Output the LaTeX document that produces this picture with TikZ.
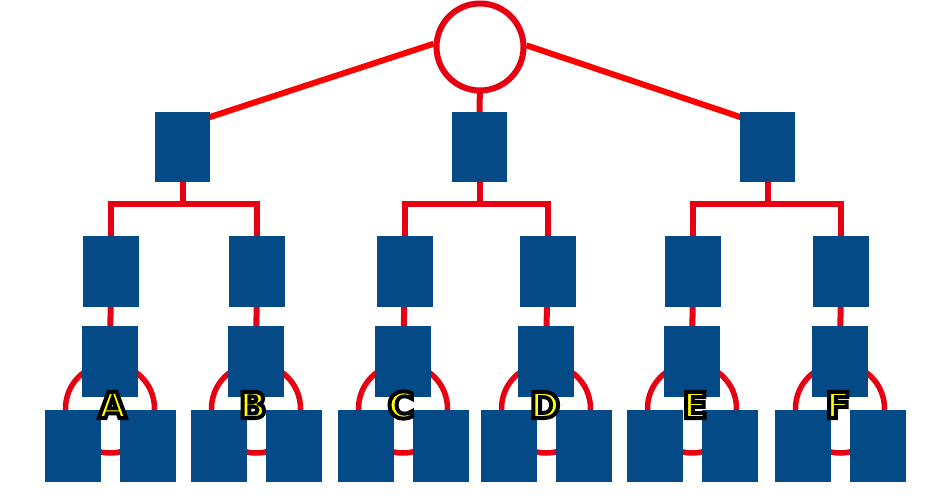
\documentclass[tikz,border=0pt]{standalone}
\font\lblf="DejaVu Sans/B:embolden=11" at 36pt
\newcommand\outlinedtext[1]{\special{pdf:bcolor [1 1 0] [0 0 0]}#1\special{pdf:ecolor}}
\definecolor{tblue}{RGB}{3,74,135}
\definecolor{tred}{RGB}{230,0,18}
\definecolor{bred}{RGB}{255,0,0}
\usetikzlibrary{calc}
\pgfdeclarelayer{bg}
\pgfsetlayers{bg,main}
\begin{document}
\begin{tikzpicture}[x=1pt,y=-1pt,
  box/.style={fill=tblue, draw=none, minimum width=56pt, minimum height=71pt, inner sep=0pt, outer sep=0pt},
  wire/.style={draw=tred, line width=6pt},
  longwire/.style={draw=bred, line width=6pt},
  ring/.style={circle, draw=tred, line width=5.5pt, minimum size=89pt, inner sep=0pt},
  rootring/.style={circle, draw=tred, fill=white, line width=6pt, minimum size=87pt, inner sep=0pt},
  lbl/.style={inner sep=0pt, font=\lblf}]
\useasboundingbox (0,0) rectangle (937,502);
% root
\node[rootring] (root) at (480,47) {};
% level 1
\node[box, minimum width=55pt, minimum height=70pt] (g1) at (182.5,147) {};
\node[box, minimum width=55pt, minimum height=70pt] (g2) at (479.5,147) {};
\node[box, minimum width=55pt, minimum height=70pt] (g3) at (767.5,147) {};
% level 2, 3, 4
\foreach \i/\gp/\xa/\xb/\lab/\lx in {1/g1/111/110/A/112.5, 2/g1/257/256/B/253,
                                    3/g2/405/403/C/401, 4/g2/547.5/546/D/545,
                                    5/g3/693/692/E/695, 6/g3/841/840/F/838}{
  \node[box] (m\i) at (\xa,271.5) {};
  \node[box] (n\i) at (\xb,361.5) {};
  \node[box, minimum height=72pt] (p\i) at (\xb-37,446) {};
  \node[box, minimum height=72pt] (q\i) at (\xb+37.5,446) {};
  \begin{pgfonlayer}{bg}
    \node[ring] (c\i) at (\xb,408.5) {};
    \draw[wire] (m\i.center) -- (n\i.center);
    \draw[wire] (\gp.center) -- (\gp.center |- 0,204) -| (m\i.center);
  \end{pgfonlayer}
  \node[lbl] (l\i) at (\lx,405) {\outlinedtext{\lab}};
}
\begin{pgfonlayer}{bg}
  \draw[longwire] (root.176) -- ($(g1.north east)+(-10,8.3)$);
  \draw[longwire] (root.2) -- ($(g3.north west)+(10,8.3)$);
  \draw[wire] (root.center) -- (g2.center);
\end{pgfonlayer}
\end{tikzpicture}
\end{document}
